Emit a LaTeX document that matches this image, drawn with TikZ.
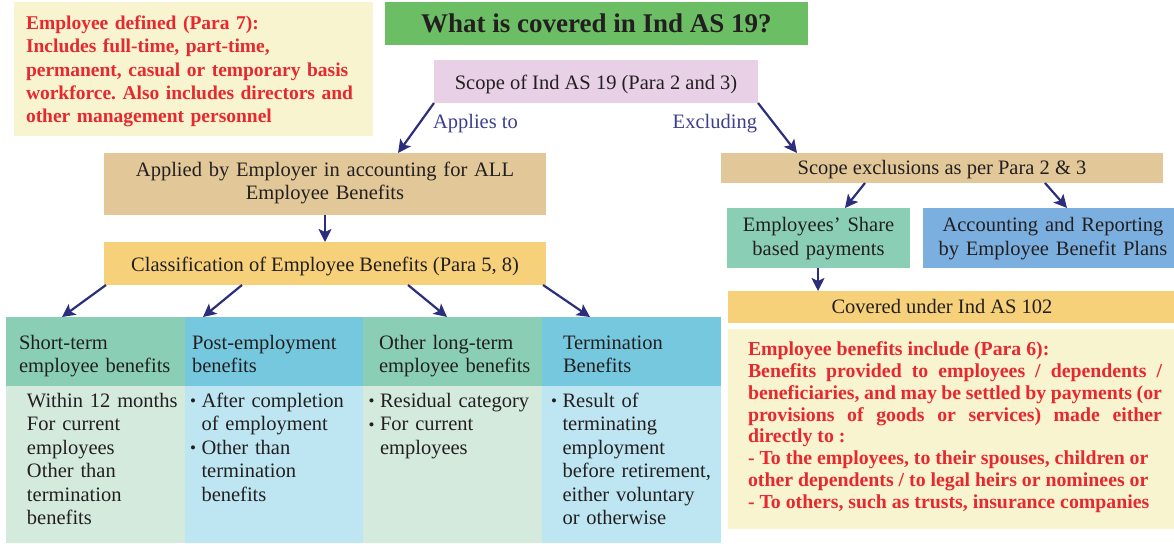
\documentclass[tikz,border=0pt]{standalone}
\usepackage{fontspec}
\usepackage{graphicx}
\setmainfont{Liberation Serif}
\usetikzlibrary{arrows.meta}
\definecolor{dark}{HTML}{231F20}
\definecolor{redtx}{HTML}{E8282F}
\definecolor{paleyel}{HTML}{F8F4CF}
\definecolor{titlegreen}{HTML}{6CBE65}
\definecolor{pinkbox}{HTML}{E8D1E6}
\definecolor{tanbox}{HTML}{E2C898}
\definecolor{orangebox}{HTML}{F6D17A}
\definecolor{tealhead}{HTML}{8ACFB5}
\definecolor{tealbody}{HTML}{D3EADC}
\definecolor{bluehead}{HTML}{76C8DE}
\definecolor{bluebody}{HTML}{BDE5F2}
\definecolor{accblue}{HTML}{7BAFE0}
\definecolor{navy}{HTML}{2B2E7C}
\definecolor{navytext}{HTML}{3B3F8C}
\newcommand\mybul{\makebox[11.5pt][l]{\raisebox{0.6pt}{\fontsize{17}{17}\selectfont\textbullet}}}
\newcommand\myind{\hspace*{11.5pt}}
\frenchspacing
\begin{document}
\begin{tikzpicture}[x=1pt,y=-1pt,
  box/.style={inner sep=0pt, outer sep=0pt, anchor=north west, draw=none},
  txt/.style={inner sep=0pt, outer sep=0pt, text=dark, font=\fontsize{20.5}{23.5}\selectfont},
  redtxt/.style={inner sep=0pt, outer sep=0pt, text=redtx, font=\fontsize{19.5}{23.4}\selectfont\bfseries},
  lbl/.style={inner sep=0pt, outer sep=0pt, text=navytext, font=\fontsize{20.5}{23.5}\selectfont},
  arr/.style={draw=navy, line width=2.2pt, -{Stealth[length=13pt,width=13pt,inset=3pt]}}
]
\useasboundingbox (0,0) rectangle (1174,543);

% ---- boxes ----
\node[box, fill=paleyel, minimum width=359pt, minimum height=134pt] (empdef) at (14,2) {};
\node[box, fill=titlegreen, minimum width=423pt, minimum height=43pt] (title) at (385,2) {};
\node[box, fill=pinkbox, minimum width=324pt, minimum height=43pt] (scope) at (434,60) {};
\node[box, fill=tanbox, minimum width=442pt, minimum height=62pt] (applied) at (104,153) {};
\node[box, fill=orangebox, minimum width=442pt, minimum height=43pt] (class) at (104,242) {};

\node[box, fill=tealhead, minimum width=179pt, minimum height=69pt] (h1) at (6,317) {};
\node[box, fill=bluehead, minimum width=178pt, minimum height=69pt] (h2) at (185,317) {};
\node[box, fill=tealhead, minimum width=179pt, minimum height=69pt] (h3) at (363,317) {};
\node[box, fill=bluehead, minimum width=179pt, minimum height=69pt] (h4) at (542,317) {};
\node[box, fill=tealbody, minimum width=179pt, minimum height=157pt] (b1) at (6,386) {};
\node[box, fill=bluebody, minimum width=178pt, minimum height=157pt] (b2) at (185,386) {};
\node[box, fill=tealbody, minimum width=179pt, minimum height=157pt] (b3) at (363,386) {};
\node[box, fill=bluebody, minimum width=179pt, minimum height=157pt] (b4) at (542,386) {};

\node[box, fill=tanbox, minimum width=442pt, minimum height=30pt] (excl) at (721,153) {};
\node[box, fill=tealhead, minimum width=183pt, minimum height=60pt] (share) at (727,208) {};
\node[box, fill=accblue, minimum width=251pt, minimum height=60pt] (acc) at (923,208) {};
\node[box, fill=orangebox, minimum width=446pt, minimum height=32pt] (covered) at (728,291) {};
\node[box, fill=paleyel, minimum width=446pt, minimum height=200pt] (incl) at (728,329) {};

% ---- texts ----
\node[redtxt, anchor=base west, text width=350pt, align=left] (t-empdef) at (26,29.3)
 {Employee defined (Para 7):\\Includes full-time, part-time,\\permanent, casual or temporary basis\\workforce. Also includes directors and\\other management personnel};
\node[txt, anchor=base, font=\fontsize{27}{30}\selectfont\bfseries] (t-title) at (596.5,33) {What is covered in Ind AS 19?};
\node[txt, anchor=base] (t-scope) at (596,89) {Scope of Ind AS 19 (Para 2 and 3)};
\node[lbl, anchor=base west] (t-applies) at (433,128) {Applies to};
\node[lbl, anchor=base east] (t-excl) at (757,128) {Excluding};
\node[txt, anchor=base, text width=430pt, align=center] (t-applied) at (325,176)
 {Applied by Employer in accounting for ALL\\Employee Benefits};
\node[txt, anchor=base] (t-class) at (325,271) {Classification of Employee Benefits (Para 5, 8)};

\node[txt, anchor=base west, text width=170pt, align=left] (t-h1) at (19,349.3) {Short-term\\employee benefits};
\node[txt, anchor=base west, text width=170pt, align=left] (t-h2) at (192,349.3) {Post-employment\\benefits};
\node[txt, anchor=base west, text width=170pt, align=left] (t-h3) at (379,349.3) {Other long-term\\employee benefits};
\node[txt, anchor=base west, text width=170pt, align=left] (t-h4) at (563,349.3) {Termination\\Benefits};

\node[txt, anchor=base west, text width=170pt, align=left] (t-b1) at (27,407.3)
 {Within 12 months\\For current\\employees\\Other than\\termination\\benefits};
\node[txt, anchor=base west, text width=175pt, align=left] (t-b2) at (190,407.3)
 {\mybul After completion\\\myind of employment\\\mybul Other than\\\myind termination\\\myind benefits};
\node[txt, anchor=base west, text width=175pt, align=left] (t-b3) at (368.5,407.3)
 {\mybul Residual category\\\mybul For current\\\myind employees};
\node[txt, anchor=base west, text width=175pt, align=left] (t-b4) at (551,407.3)
 {\mybul Result of\\\myind terminating\\\myind employment\\\myind before retirement,\\\myind either voluntary\\\myind or otherwise};

\node[txt, anchor=base] (t-excl2) at (942,174) {Scope exclusions as per Para 2 \& 3};
\node[txt, anchor=base, text width=180pt, align=center] (t-share) at (818.5,231.7) {Employees’ Share\\based payments};
\node[txt, anchor=base, text width=250pt, align=center] (t-acc) at (1053,231.7) {Accounting and Reporting\\by Employee Benefit Plans};
\node[txt, anchor=base] (t-covered) at (942,313.3) {Covered under Ind AS 102};
\node[redtxt, anchor=base west, text width=414pt, align=justify, font=\fontsize{19.8}{21.8}\selectfont\bfseries] (t-incl) at (748,355.7)
 {Employee benefits include (Para 6):\\
 Benefits provided to employees / dependents /\linebreak
 beneficiaries, and may be settled by payments (or\linebreak
 provisions of goods or services) made either\linebreak
 directly to :\\
 - To the employees, to their spouses, children or\\
 other dependents / to legal heirs or nominees or\\
 - To others, such as trusts, insurance companies};

% ---- connectors ----
\draw[arr] (scope.south west) -- ([xshift=294pt]applied.north west);
\draw[arr] (scope.south east) -- ([xshift=76pt]excl.north west);
\draw[arr] (applied.south) -- (class.north);
\draw[arr] ([xshift=2pt]class.south west) -- ([xshift=56pt]h1.north west);
\draw[arr] ([xshift=138pt]class.south west) -- ([xshift=18pt]h2.north west);
\draw[arr] ([xshift=304pt]class.south west) -- ([xshift=84pt]h3.north west);
\draw[arr] ([xshift=-3pt]class.south east) -- ([xshift=48pt]h4.north west);
\draw[arr] ([xshift=144pt]excl.south west) -- ([xshift=118pt]share.north west);
\draw[arr] ([xshift=324pt]excl.south west) -- ([xshift=144pt]acc.north west);
\draw[arr] ([xshift=91pt]share.south west) -- ([xshift=90pt]covered.north west);
\end{tikzpicture}
\end{document}
